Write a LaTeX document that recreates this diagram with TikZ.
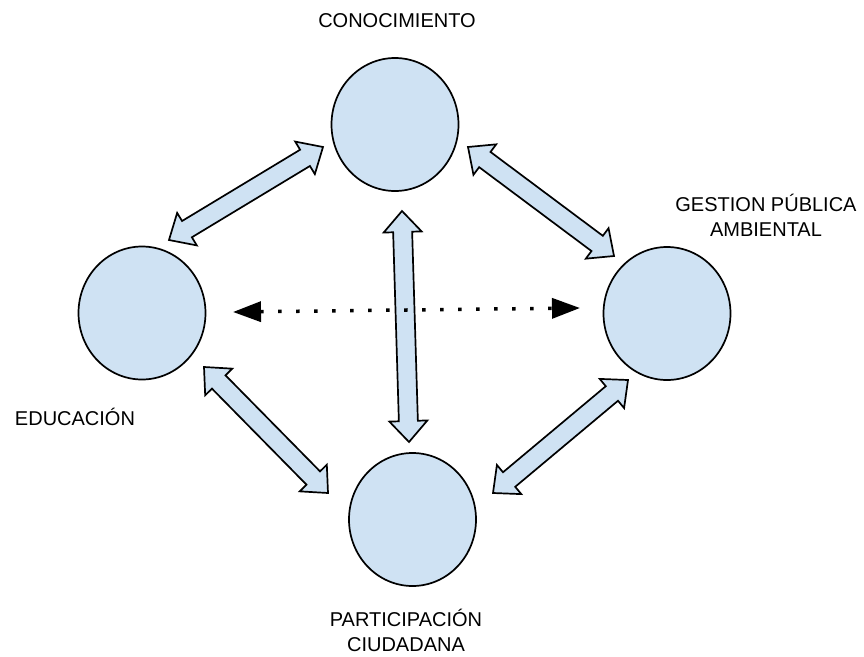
\documentclass[tikz,border=0pt]{standalone}
\usepackage{fontspec}
\setmainfont{Liberation Sans}
\usepackage{tikz}
\usetikzlibrary{shapes,shapes.geometric}
\usetikzlibrary{calc,arrows.meta}
\definecolor{bubblefill}{RGB}{207,226,243}
\tikzstyle{bubble}=[ellipse, draw=black, line width=1.7pt, fill=bubblefill, minimum width=127pt, minimum height=133pt, inner sep=0pt]
\tikzstyle{caption}=[font=\fontsize{20}{25}\selectfont, align=center, inner sep=0pt]
\tikzstyle{fat}=[draw=black, line width=1.7pt, fill=bubblefill, line join=miter]
\tikzstyle{dotline}=[line width=3.5pt, dash pattern=on 3.5pt off 14.5pt, {Triangle[length=28pt,width=20pt]}-{Triangle[length=28pt,width=20pt]}]
\newcommand{\fatW}{9.5pt}
\newcommand{\fatH}{19pt}
\newcommand{\fatL}{21pt}
\newcommand{\fatarrow}[2]{
\filldraw[fat] (#1)
  -- ($(#1)!\fatL!(#2)!\fatH!90:(#2)$)
  -- ($(#1)!\fatL!(#2)!\fatW!90:(#2)$)
  -- ($(#2)!\fatL!(#1)!\fatW!-90:(#1)$)
  -- ($(#2)!\fatL!(#1)!\fatH!-90:(#1)$)
  -- (#2)
  -- ($(#2)!\fatL!(#1)!\fatH!90:(#1)$)
  -- ($(#2)!\fatL!(#1)!\fatW!90:(#1)$)
  -- ($(#1)!\fatL!(#2)!\fatW!-90:(#2)$)
  -- ($(#1)!\fatL!(#2)!\fatH!-90:(#2)$)
  -- cycle;
}

\begin{document}
\begin{tikzpicture}[x=1pt,y=-1pt]
\useasboundingbox (0,0) rectangle (864,656);
\node[bubble] (con) at (395,124.5) {};
\node[bubble] (edu) at (142,313) {};
\node[bubble] (ges) at (667,313.5) {};
\node[bubble] (par) at (412.5,519.5) {};
\node[caption] (con-t) at (397,21) {CONOCIMIENTO};
\node[caption] (ges-t) at (766,215) {GESTION PÚBLICA\\AMBIENTAL};
\node[caption] (edu-t) at (75,416.5) {EDUCACIÓN};
\node[caption] (par-t) at (406,630) {PARTICIPACIÓN\\CIUDADANA};
\coordinate (ec1) at (169,240);
\coordinate (ec2) at (323,147);
\coordinate (cg1) at (468,147);
\coordinate (cg2) at (614,256);
\coordinate (ep1) at (204,367);
\coordinate (ep2) at (328,493);
\coordinate (gp1) at (628,380);
\coordinate (gp2) at (493,493);
\coordinate (cp1) at (402,211);
\coordinate (cp2) at (409,442);
\coordinate (eg1) at (233,312);
\coordinate (eg2) at (580,308);
\fatarrow{ec1}{ec2}
\fatarrow{cg1}{cg2}
\fatarrow{ep1}{ep2}
\fatarrow{gp1}{gp2}
\fatarrow{cp1}{cp2}
\draw[dotline] (eg1) -- (eg2);
\end{tikzpicture}
\end{document}
